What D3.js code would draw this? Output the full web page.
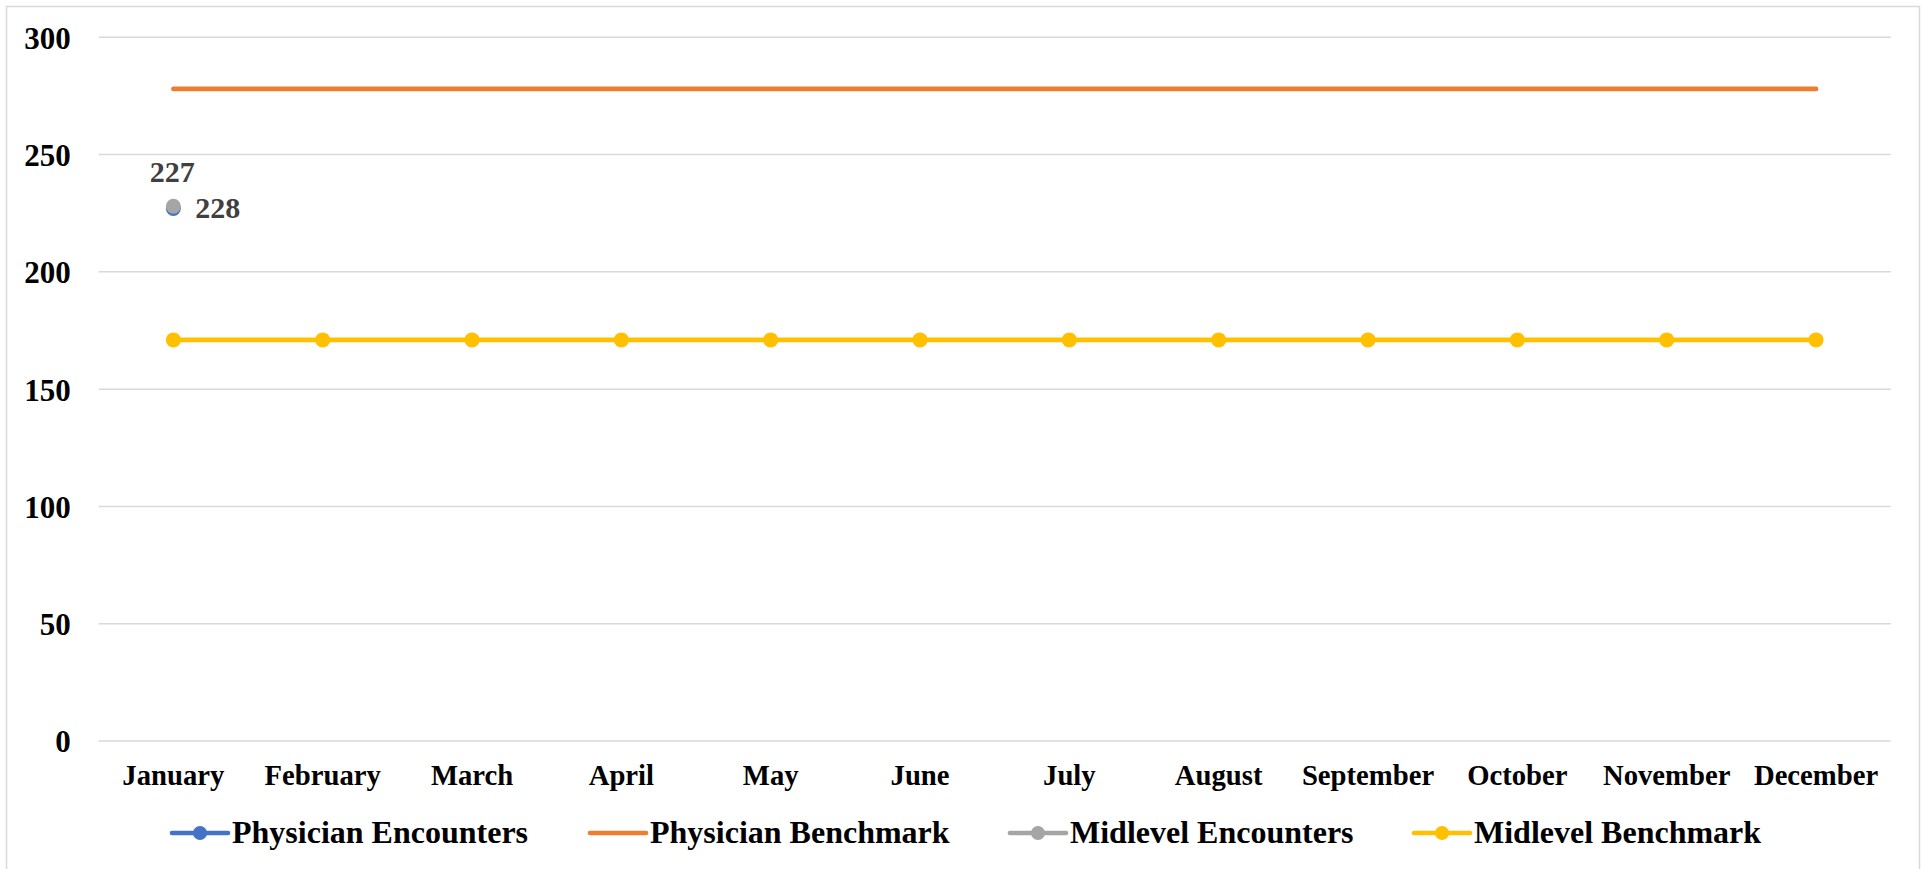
<!DOCTYPE html>
<html><head><meta charset="utf-8">
<script src="https://cdn.jsdelivr.net/npm/d3@7"></script>
<style>html,body{margin:0;padding:0;background:#fff;}svg{display:block;}</style>
</head><body>
<script>
const months = ["January","February","March","April","May","June","July","August","September","October","November","December"];
const physicianEncounters = [227,null,null,null,null,null,null,null,null,null,null,null];
const physicianBenchmark = [278,278,278,278,278,278,278,278,278,278,278,278];
const midlevelEncounters = [228,null,null,null,null,null,null,null,null,null,null,null];
const midlevelBenchmark = [171,171,171,171,171,171,171,171,171,171,171,171];
const yTicks = [0,50,100,150,200,250,300];
const seriesNames = ["Physician Encounters","Physician Benchmark","Midlevel Encounters","Midlevel Benchmark"];
const colors = ["#4472C4","#ED7D31","#A5A5A5","#FFC000"];

(function(){
const W = 1925, H = 869;
const svg = d3.select("body").append("svg").attr("width", W).attr("height", H);
svg.append("rect").attr("x",6.5).attr("y",6.5).attr("width",1913).attr("height",870)
  .attr("fill","#fff").attr("stroke","#d9d9d9").attr("stroke-width",1.5);

const pLeft = 98.7, pRight = 1890.7, pTop = 37.3, pBottom = 741;
const x = d3.scaleBand().domain(months).range([pLeft, pRight]);
const y = d3.scaleLinear().domain([0,300]).range([pBottom, pTop]);
const cx = m => x(m) + x.bandwidth()/2;

svg.append("g").selectAll("line").data(yTicks).join("line")
  .attr("x1", pLeft).attr("x2", pRight).attr("y1", d=>y(d)).attr("y2", d=>y(d))
  .attr("stroke","#d9d9d9").attr("stroke-width",1.5);

const fontF = "'Liberation Serif','Times New Roman',serif";
const yAxis = svg.append("g").attr("transform",`translate(${pLeft-28},0)`)
  .call(d3.axisLeft(y).tickValues(yTicks).tickSize(0).tickPadding(0));
yAxis.select(".domain").remove();
yAxis.selectAll("text").attr("font-family",fontF)
  .attr("font-weight","bold").attr("font-size","31px").attr("fill","#000").attr("dy","0.35em");

const xAxis = svg.append("g").attr("transform",`translate(0,${pBottom})`)
  .call(d3.axisBottom(x).tickSize(0).tickPadding(0));
xAxis.select(".domain").remove();
xAxis.selectAll("text").attr("font-family",fontF)
  .attr("font-weight","bold").attr("font-size","28.7px").attr("fill","#000")
  .attr("y",44).attr("dy",0);

const allSeries = [physicianEncounters, physicianBenchmark, midlevelEncounters, midlevelBenchmark];
const hasMarker = [true,false,true,true];
const line = d3.line().defined(d=>d.v!=null).x(d=>cx(d.m)).y(d=>y(d.v));

allSeries.forEach((vals,i)=>{
  const data = months.map((m,j)=>({m, v: vals[j]}));
  svg.append("path").datum(data).attr("d", line).attr("fill","none")
    .attr("stroke", colors[i]).attr("stroke-width",4.7).attr("stroke-linecap","round").attr("stroke-linejoin","round");
});
allSeries.forEach((vals,i)=>{
  if(!hasMarker[i]) return;
  const data = months.map((m,j)=>({m, v: vals[j]})).filter(d=>d.v!=null);
  svg.append("g").selectAll("circle").data(data).join("circle")
    .attr("cx", d=>cx(d.m)).attr("cy", d=>y(d.v)).attr("r",7.5).attr("fill",colors[i]);
});

svg.append("text").attr("x", cx(months[0]) - 1).attr("y", y(physicianEncounters[0]) - 27)
  .attr("text-anchor","middle").attr("font-family",fontF).attr("font-weight","bold")
  .attr("font-size","30px").attr("fill","#404040").text(physicianEncounters[0]);
svg.append("text").attr("x", cx(months[0]) + 22).attr("y", y(midlevelEncounters[0]) + 12)
  .attr("text-anchor","start").attr("font-family",fontF).attr("font-weight","bold")
  .attr("font-size","30px").attr("fill","#404040").text(midlevelEncounters[0]);

const legX = [172, 590, 1010, 1414];
const legY = 833;
const leg = svg.append("g");
seriesNames.forEach((name,i)=>{
  const g = leg.append("g");
  g.append("line").attr("x1", legX[i]).attr("x2", legX[i]+56).attr("y1", legY).attr("y2", legY)
    .attr("stroke", colors[i]).attr("stroke-width",4.7).attr("stroke-linecap","round");
  if(hasMarker[i]) g.append("circle").attr("cx", legX[i]+28).attr("cy", legY).attr("r",7).attr("fill",colors[i]);
  g.append("text").attr("x", legX[i]+60).attr("y", legY+10).attr("font-family",fontF)
    .attr("font-weight","bold").attr("font-size","32px").attr("fill","#000").text(name);
});
})();
</script>
</body></html>
